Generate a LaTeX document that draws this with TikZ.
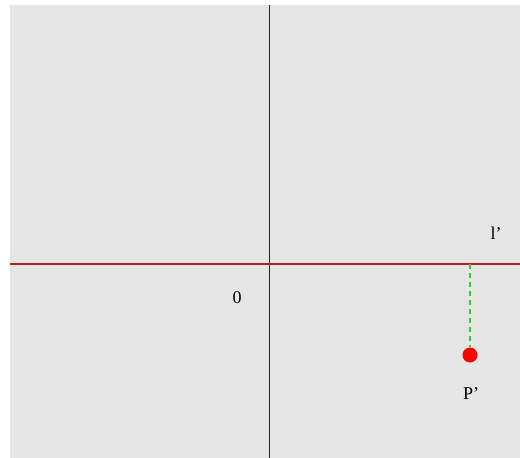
\documentclass[tikz,border=0pt]{standalone}
\usepackage{fontspec}
\setmainfont{Liberation Serif}
\begin{document}
\begin{tikzpicture}[x=1pt,y=-1pt,
  lbl/.style={font=\fontsize{18}{20}\selectfont, inner sep=0pt},
  axisline/.style={line width=1pt, black!85},
  redline/.style={line width=1.3pt, color={rgb,255:red,178;green,34;blue,34}},
  greendash/.style={line width=1.2pt, dashed, dash pattern=on 5pt off 4pt, color={rgb,255:red,60;green,200;blue,60}}]
\useasboundingbox (0,0) rectangle (520,458);
\fill[color={rgb,255:red,229;green,229;blue,229}] (10,5) rectangle (520,458);
\coordinate (vtop) at (269,5);
\coordinate (vbot) at (269,458);
\coordinate (hl) at (10,264);
\coordinate (hr) at (520,264);
\coordinate (foot) at (470,264);
\draw[axisline] (vtop) -- (vbot);
\draw[redline] (hl) -- (hr);
\node[circle, fill=red, minimum size=15pt, inner sep=0pt] (P) at (470,355) {};
\draw[greendash] (foot) -- (P.north);
\node[lbl] (l) at (496,233) {l’};
\node[lbl] (o) at (237,298) {0};
\node[lbl] (pl) at (471,394) {P’};
\end{tikzpicture}
\end{document}
